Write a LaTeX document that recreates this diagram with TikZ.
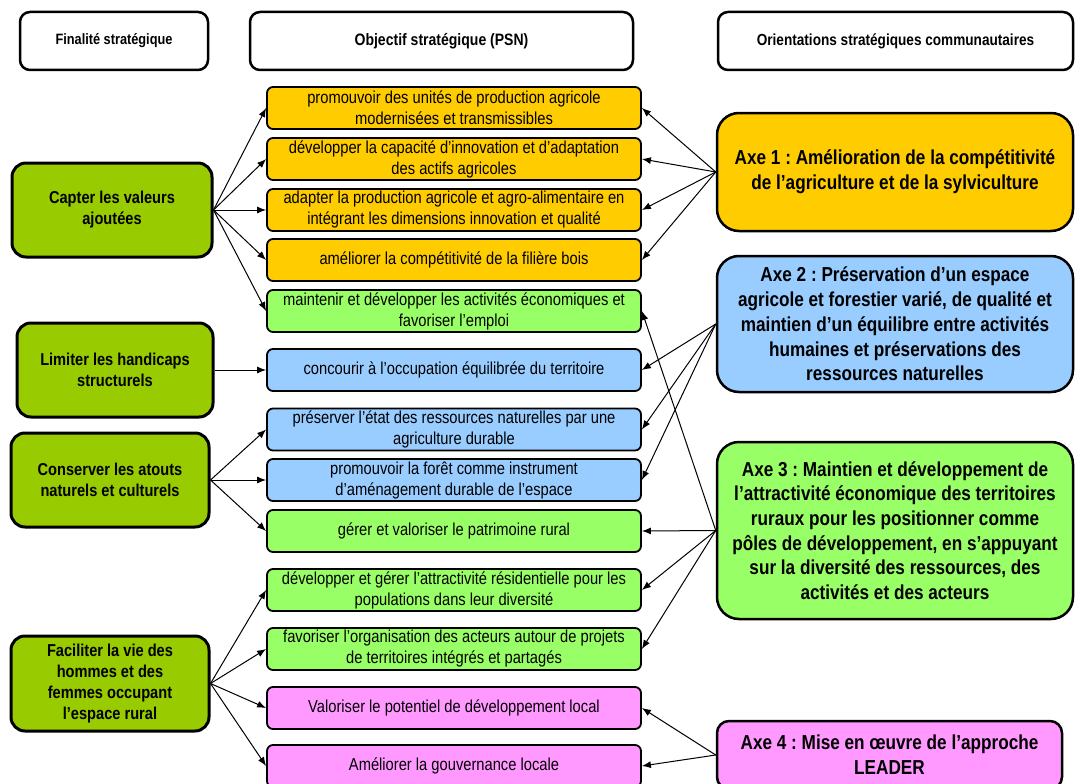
\documentclass[tikz,border=0pt]{standalone}
\usepackage{fontspec}
\setmainfont{Liberation Sans}
\newfontfamily\nfont[FakeStretch=0.85]{Liberation Sans}
\usetikzlibrary{arrows.meta}
\definecolor{colLeft}{HTML}{99CC00}
\definecolor{colYel}{HTML}{FFCC00}
\definecolor{colGrn}{HTML}{99FF66}
\definecolor{colBlu}{HTML}{99CCFF}
\definecolor{colPnk}{HTML}{FF99FF}
\frenchspacing
\begin{document}
\begin{tikzpicture}[x=1pt,y=-1pt,
  hdr/.style={draw, line width=2.5pt, rounded corners=10pt, fill=white, minimum height=58pt, inner sep=0pt, align=center, font=\nfont\bfseries\frenchspacing\fontsize{15}{18}\selectfont},
  mid/.style={draw, line width=1.8pt, rounded corners=6pt, minimum width=374pt, minimum height=42pt, inner sep=0pt, align=center, font=\nfont\frenchspacing\fontsize{17.3}{21}\selectfont},
  lft/.style={draw, line width=3pt, rounded corners=14pt, fill=colLeft, minimum height=94pt, inner sep=0pt, align=center, font=\nfont\bfseries\frenchspacing\fontsize{17.2}{21}\selectfont},
  axe/.style={draw, line width=2.5pt, rounded corners=22pt, inner sep=0pt, align=center, font=\nfont\bfseries\frenchspacing\fontsize{20.2}{24.7}\selectfont},
  arr/.style={line width=1pt, -{Latex[length=9pt,width=7pt]}}
]
\useasboundingbox (0,0) rectangle (1076,784);
% headers
\node[hdr, minimum width=188pt] (fin) at (114,41) {Finalité stratégique};
\node[hdr, minimum width=383pt, font=\nfont\bfseries\frenchspacing\fontsize{16.5}{20}\selectfont] (obj) at (441.5,41) {Objectif stratégique (PSN)};
\node[hdr, minimum width=355pt, font=\nfont\bfseries\frenchspacing\fontsize{16}{20}\selectfont] (ori) at (895.5,41) {Orientations stratégiques communautaires};
% left column
\node[lft, minimum width=200pt] (capter) at (112,210) {Capter les valeurs\\ajoutées};
\node[lft, minimum width=196pt] (limiter) at (115,370) {Limiter les handicaps\\structurels};
\node[lft, minimum width=198pt] (conserver) at (110,480) {Conserver les atouts\\naturels et culturels};
\node[lft, minimum width=198pt, minimum height=95pt] (faciliter) at (110,683.5) {Faciliter la vie des\\hommes et des\\femmes occupant\\l’espace rural};
% middle column
\node[mid, fill=colYel] (m1) at (454,108) {promouvoir des unités de production agricole\\modernisées et transmissibles};
\node[mid, fill=colYel] (m2) at (454,159) {développer la capacité d’innovation et d’adaptation\\des actifs agricoles};
\node[mid, fill=colYel] (m3) at (454,210) {adapter la production agricole et agro-alimentaire en\\intégrant les dimensions innovation et qualité};
\node[mid, fill=colYel] (m4) at (454,260) {améliorer la compétitivité de la filière bois};
\node[mid, fill=colGrn] (m5) at (454,311) {maintenir et développer les activités économiques et\\favoriser l’emploi};
\node[mid, fill=colBlu] (m6) at (454,370) {concourir à l’occupation équilibrée du territoire};
\node[mid, fill=colBlu] (m7) at (454,429.5) {préserver l’état des ressources naturelles par une\\agriculture durable};
\node[mid, fill=colBlu] (m8) at (454,480) {promouvoir la forêt comme instrument\\d’aménagement durable de l’espace};
\node[mid, fill=colGrn] (m9) at (454,531) {gérer et valoriser le patrimoine rural};
\node[mid, fill=colGrn] (m10) at (454,590) {développer et gérer l’attractivité résidentielle pour les\\populations dans leur diversité};
\node[mid, fill=colGrn] (m11) at (454,649) {favoriser l’organisation des acteurs autour de projets\\de territoires intégrés et partagés};
\node[mid, fill=colPnk] (m12) at (454,708) {Valoriser le potentiel de développement local};
\node[mid, fill=colPnk] (m13) at (454,766) {Améliorer la gouvernance locale};
% right column
\node[axe, fill=colYel, minimum width=356pt, minimum height=118pt] (a1) at (895,172) {Axe 1 : Amélioration de la compétitivité\\de l’agriculture et de la sylviculture};
\node[axe, fill=colBlu, minimum width=356pt, minimum height=136pt] (a2) at (895,324) {Axe 2 : Préservation d’un espace\\agricole et forestier varié, de qualité et\\maintien d’un équilibre entre activités\\humaines et préservations des\\ressources naturelles};
\node[axe, fill=colGrn, minimum width=356pt, minimum height=177pt] (a3) at (895,530.5) {Axe 3 : Maintien et développement de\\l’attractivité économique des territoires\\ruraux pour les positionner comme\\pôles de développement, en s’appuyant\\sur la diversité des ressources, des\\activités et des acteurs};
\node[axe, fill=colPnk, minimum width=345pt, minimum height=68pt, rounded corners=12pt] (a4) at (889.5,755) {Axe 4 : Mise en œuvre de l’approche\\LEADER};
% left arrows
\foreach \t in {m1,m2,m3,m4,m5} \draw[arr] (capter.east) -- (\t.west);
\draw[arr] (limiter.east) -- (m6.west);
\foreach \t in {m7,m8,m9} \draw[arr] (conserver.east) -- (\t.west);
\foreach \t in {m10,m11,m12,m13} \draw[arr] (faciliter.east) -- (\t.west);
% right arrows
\foreach \t in {m1,m2,m3,m4} \draw[arr] (a1.west) -- (\t.east);
\foreach \t in {m6,m7,m8} \draw[arr] (a2.west) -- (\t.east);
\foreach \t in {m5,m9,m10,m11} \draw[arr] (a3.west) -- (\t.east);
\foreach \t in {m12,m13} \draw[arr] (a4.west) -- (\t.east);
\end{tikzpicture}
\end{document}
